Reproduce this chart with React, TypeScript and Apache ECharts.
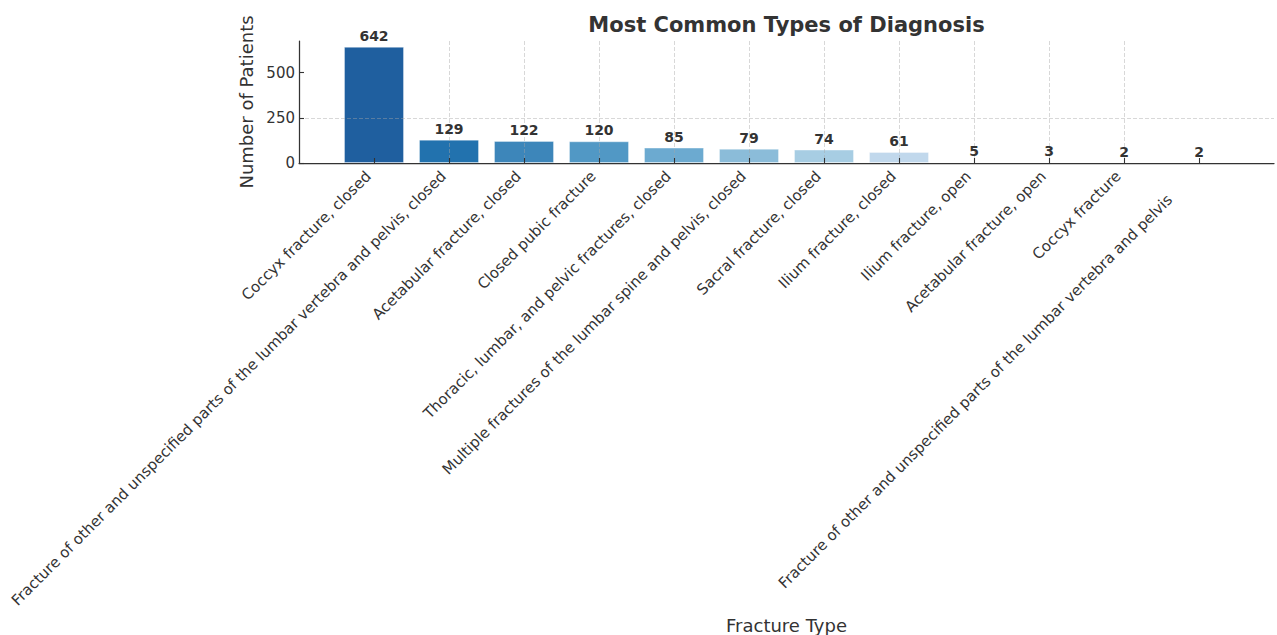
import React, { useEffect, useRef } from "react";
import * as echarts from "echarts";

// Diagnosis categories, in descending order of patient count
// (the last name carries trailing whitespace from the source records)
const categories: string[] = [
  "Coccyx fracture, closed",
  "Fracture of other and unspecified parts of the lumbar vertebra and pelvis, closed",
  "Acetabular fracture, closed",
  "Closed pubic fracture",
  "Thoracic, lumbar, and pelvic fractures, closed",
  "Multiple fractures of the lumbar spine and pelvis, closed",
  "Sacral fracture, closed",
  "Ilium fracture, closed",
  "Ilium fracture, open",
  "Acetabular fracture, open",
  "Coccyx fracture",
  "Fracture of other and unspecified parts of the lumbar vertebra and pelvis       ",
];

const patientCounts: number[] = [642, 129, 122, 120, 85, 79, 74, 61, 5, 3, 2, 2];

// Blues ramp, dark to light
const barColors: string[] = [
  "#1f5f9f",
  "#2272ae",
  "#3d86ba",
  "#5198c5",
  "#6caad0",
  "#8bbcd9",
  "#a7cde3",
  "#c1d8ec",
  "#d2e3f2",
  "#e1ecf7",
  "#ecf3fa",
  "#f3f8fc",
];

const yTickValues: number[] = [0, 250, 500];

const TEXT = "#333333";
const FONT = "DejaVu Sans";

// keep trailing blanks visible in SVG text (plain spaces would collapse)
const keepTrailingSpaces = (s: string) =>
  s.replace(/ +$/, (m) => "\u00a0".repeat(m.length));

export default function App() {
  const ref = useRef<HTMLDivElement>(null);

  useEffect(() => {
    if (!ref.current) return;
    const chart = echarts.init(ref.current, undefined, { renderer: "svg" });
    const positions = categories.map((_, i) => i);
    const yMax = Math.max(...patientCounts) * 1.05;

    const gridLine = {
      show: true,
      showMinLine: false,
      showMaxLine: false,
      lineStyle: { color: "rgba(165,165,165,0.55)", type: [4, 2], width: 0.8 },
    };

    chart.setOption({
      animation: false,
      textStyle: { fontFamily: FONT },
      graphic: [
        {
          type: "text",
          x: 786.5,
          y: 25,
          style: {
            text: "Most Common Types of Diagnosis",
            textAlign: "center",
            textVerticalAlign: "middle",
            fontSize: 21,
            fontWeight: "bold",
            fontFamily: FONT,
            fill: TEXT,
          },
        },
      ],
      grid: { left: 299, right: 3, top: 41, bottom: 472, containLabel: false },
      xAxis: {
        type: "value",
        min: -1,
        max: 12,
        interval: 1,
        z: 3,
        name: "Fracture Type",
        nameLocation: "middle",
        nameGap: 453,
        nameTextStyle: { fontSize: 18, color: TEXT, fontFamily: FONT },
        axisLine: { show: true, lineStyle: { color: TEXT, width: 1.25 } },
        axisTick: {
          show: true,
          inside: true,
          length: 5,
          customValues: positions,
          lineStyle: { color: TEXT, width: 1.1 },
        },
        axisLabel: {
          show: true,
          customValues: positions,
          rotate: 45,
          margin: 5,
          padding: [0, 8, 0, 0],
          fontSize: 15,
          color: TEXT,
          fontFamily: FONT,
          formatter: (v: number) => keepTrailingSpaces(categories[Math.round(v)] ?? ""),
        },
        splitLine: gridLine,
      },
      yAxis: {
        type: "value",
        min: 0,
        max: yMax,
        interval: 250,
        z: 3,
        name: "Number of Patients",
        nameLocation: "middle",
        nameGap: 38,
        nameTextStyle: { fontSize: 18, color: TEXT, fontFamily: FONT },
        axisLine: { show: true, onZero: false, lineStyle: { color: TEXT, width: 1.25 } },
        axisTick: {
          show: true,
          inside: true,
          length: 5,
          customValues: yTickValues,
          lineStyle: { color: TEXT, width: 1.1 },
        },
        axisLabel: {
          show: true,
          customValues: yTickValues,
          margin: 4,
          fontSize: 15,
          color: TEXT,
          fontFamily: FONT,
        },
        splitLine: gridLine,
      },
      series: [
        {
          type: "bar",
          barWidth: 60,
          z: 2,
          data: patientCounts.map((v, i) => ({
            value: [i, v],
            itemStyle: {
              color: barColors[i],
              borderColor: "rgba(255,255,255,0.35)",
              borderWidth: 1,
            },
          })),
        },
        {
          // transparent overlay carrying the value labels above the grid
          type: "bar",
          barWidth: 60,
          barGap: "-100%",
          z: 5,
          silent: true,
          itemStyle: { color: "rgba(0,0,0,0)" },
          label: {
            show: true,
            position: "top",
            distance: 4,
            fontSize: 14,
            fontWeight: "bold",
            color: TEXT,
            fontFamily: FONT,
            formatter: (p: any) => String(p.value[1]),
          },
          data: patientCounts.map((v, i) => [i, v]),
        },
      ],
    });

    return () => chart.dispose();
  }, []);

  return (
    <div
      ref={ref}
      style={{ position: "fixed", left: 0, top: 0, width: 1277, height: 635, background: "#ffffff" }}
    />
  );
}
